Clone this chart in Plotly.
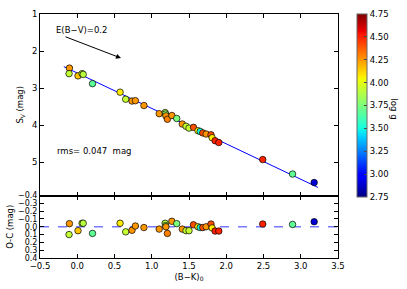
import plotly.graph_objects as go

# ---- data ----
bk0 = [-0.105, -0.11, 0.01, 0.065, 0.08, 0.205, 0.575, 0.65, 0.735, 0.78, 0.895,
       1.10, 1.18, 1.185, 1.19, 1.21, 1.27, 1.335, 1.41, 1.46, 1.50, 1.56, 1.62,
       1.65, 1.685, 1.73, 1.795, 1.81, 1.85, 1.90, 2.49, 2.89, 3.18]
sv = [2.46, 2.61, 2.67, 2.61, 2.63, 2.88, 3.11, 3.30, 3.35, 3.34, 3.47,
      3.69, 3.66, 3.70, 3.75, 3.84, 3.74, 3.82, 3.97, 4.03, 4.08, 4.06, 4.15,
      4.17, 4.21, 4.24, 4.26, 4.34, 4.42, 4.47, 4.93, 5.32, 5.55]
oc = [-0.04, 0.10, 0.05, -0.045, -0.045, 0.085, -0.045, 0.065, 0.045, -0.01, 0.01,
      0.03, -0.045, -0.015, 0.0, 0.085, -0.07, -0.04, 0.03, 0.05, 0.05, -0.025, 0.0,
      0.01, 0.01, 0.0, -0.035, 0.015, 0.055, 0.055, -0.035, -0.03, -0.065]
logg = [4.25, 3.92, 4.15, 3.95, 3.9, 3.68, 4.07, 3.93, 4.25, 4.25, 4.25,
        4.25, 3.9, 3.8, 4.25, 4.3, 4.25, 3.75, 4.25, 3.93, 3.93, 4.4, 4.07,
        3.5, 4.4, 4.25, 4.4, 4.07, 4.5, 4.5, 4.5, 3.68, 2.9]
fit_x = [-0.18, 3.23]
fit_y = [2.42, 5.68]
zero_x = [-0.5, 3.5]
zero_y = [0.0, 0.0]
cbar_ticks = [2.75, 3.00, 3.25, 3.50, 3.75, 4.00, 4.25, 4.50, 4.75]

# matplotlib-like jet colorscale
seg = {
    'r': [(0, 0), (0.35, 0), (0.66, 1), (0.89, 1), (1, 0.5)],
    'g': [(0, 0), (0.125, 0), (0.375, 1), (0.64, 1), (0.91, 0), (1, 0)],
    'b': [(0, 0.5), (0.11, 1), (0.34, 1), (0.65, 0), (1, 0)],
}
def interp(pts, t):
    for (x0, y0), (x1, y1) in zip(pts[:-1], pts[1:]):
        if x0 <= t <= x1:
            return y0 + (y1 - y0) * (t - x0) / (x1 - x0)
    return pts[-1][1]
stops = sorted({p[0] for v in seg.values() for p in v})
jet = []
for t in stops:
    r, g, b = (int(round(255 * interp(seg[c], t))) for c in 'rgb')
    jet.append([t, f'rgb({r},{g},{b})'])

FONT = dict(family="DejaVu Sans", size=8.5, color="black")
SMALL = dict(family="DejaVu Sans", size=8, color="black")

fig = go.Figure()
fig.add_trace(go.Scatter(x=fit_x, y=fit_y, mode='lines', line=dict(color='#0000ff', width=1),
                         xaxis='x2', yaxis='y2', showlegend=False, hoverinfo='skip'))
fig.add_trace(go.Scatter(x=bk0, y=sv, mode='markers', xaxis='x2', yaxis='y2', showlegend=False,
                         marker=dict(size=6.5, color=logg, coloraxis='coloraxis',
                                     line=dict(color='black', width=0.7))))
fig.add_trace(go.Scatter(x=zero_x, y=zero_y, mode='lines', showlegend=False, hoverinfo='skip',
                         line=dict(color='#7777ff', width=1.5, dash='dash')))
fig.add_trace(go.Scatter(x=bk0, y=oc, mode='markers', showlegend=False,
                         marker=dict(size=6.5, color=logg, coloraxis='coloraxis',
                                     line=dict(color='black', width=0.7))))

axcommon = dict(showline=True, linecolor='black', linewidth=1, mirror='ticks', ticks='inside',
                ticklen=4, tickcolor='black', showgrid=False, zeroline=False, tickfont=FONT)

fig.update_layout(
    width=407, height=289, paper_bgcolor='white', plot_bgcolor='white',
    margin=dict(l=40, r=69, t=9, b=30),
    font=FONT,
    xaxis=dict(**axcommon, range=[-0.5, 3.5], dtick=0.5, tickformat='.1f',
               title=dict(text='(B−K)<sub>0</sub>', font=FONT, standoff=3)),
    yaxis=dict(**{**axcommon, 'tickfont': SMALL}, domain=[0, 0.256], range=[0.4, -0.4],
               dtick=0.1, tickformat='.1f',
               title=dict(text='O-C (mag)', font=FONT, standoff=2)),
    xaxis2=dict(**axcommon, range=[-0.5, 3.5], dtick=0.5, anchor='y2', matches='x',
                showticklabels=False),
    yaxis2=dict(**axcommon, domain=[0.256, 1], range=[5.9, 1], tickvals=[1, 2, 3, 4, 5],
                anchor='x2', title=dict(text='S<sub>V</sub> (mag)', font=FONT, standoff=6)),
    coloraxis=dict(cmin=2.75, cmax=4.75, colorscale=jet,
                   colorbar=dict(x=1.064, xanchor='left', y=1, yanchor='top', len=0.748,
                                 lenmode='fraction', thickness=10, outlinecolor='#666',
                                 outlinewidth=1, tickvals=cbar_ticks, tickformat='.2f',
                                 ticks='inside', ticklen=3, tickfont=FONT, xpad=0, ypad=0)),
    annotations=[
        dict(text='E(B−V)=0.2', x=-0.31, y=1.42, xref='x2', yref='y2', showarrow=False,
             xanchor='left', font=FONT),
        dict(x=0.587, y=2.19, ax=-0.177, ay=1.60, xref='x2', yref='y2', axref='x2', ayref='y2',
             showarrow=True, arrowhead=2, arrowsize=1, arrowwidth=1, arrowcolor='black', text=''),
        dict(text='rms= 0.047  mag', x=-0.30, y=4.69, xref='x2', yref='y2', showarrow=False,
             xanchor='left', font=FONT),
        dict(text='log g', x=1.212, y=0.612, xref='paper', yref='paper', showarrow=False,
             textangle=90, font=FONT),
    ],
)

fig.write_html('out.html', config={'displayModeBar': False},
               post_script="document.body.style.margin='0';document.body.style.padding='0';")
